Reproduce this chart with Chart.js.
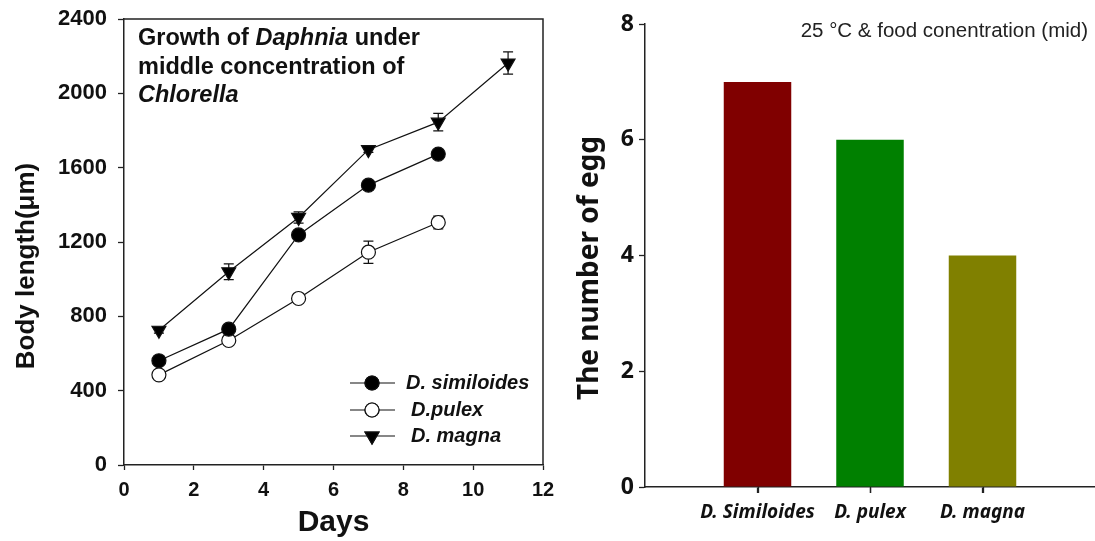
<!DOCTYPE html>
<html>
<head>
<meta charset="utf-8">
<script src="https://cdn.jsdelivr.net/npm/chart.js@4.4.1/dist/chart.umd.min.js"></script>
<style>
  html, body { margin: 0; padding: 0; background: #fff; }
  #growthBox { position: absolute; left: 0; top: 0; width: 560px; height: 541px; }
  #eggBox { position: absolute; left: 560px; top: 0; width: 535px; height: 541px; }
</style>
</head>
<body>
<div id="growthBox"><canvas id="growthChart"></canvas></div>
<div id="eggBox"><canvas id="eggChart"></canvas></div>
<script>
// Body length (um) by day, mean and error
const days = [1, 3, 5, 7, 9, 11];
const similoidesLen = [561, 731, 1238, 1506, 1673];
const similoidesErr = [10, 12, 18, 25, 15];
const pulexLen = [485, 670, 896, 1145, 1305];
const pulexErr = [10, 10, 12, 60, 34];
const magnaLen = [725, 1040, 1332, 1697, 1845, 2163];
const magnaErr = [15, 42, 30, 15, 47, 60];

// Eggs per species
const species = ['D. Similoides', 'D. pulex', 'D. magna'];
const eggCounts = [7, 6, 4];

const AXIS = '#222';
const ARIAL = '"Liberation Sans", Arial, sans-serif';
const NOTO = '"Noto Sans", sans-serif';

document.addEventListener('DOMContentLoaded', () => {
  initGrowthChart();
  initEggChart();
});

function toPoints(values) {
  return values.map((v, i) => ({ x: days[i], y: v }));
}

// rotated axis title, centred on a given point
function drawSideTitle(ctx, text, font, x, y) {
  ctx.save();
  ctx.translate(x, y);
  ctx.rotate(-Math.PI / 2);
  ctx.fillStyle = '#111';
  ctx.font = font;
  ctx.textAlign = 'center';
  ctx.textBaseline = 'middle';
  ctx.fillText(text, 0, 0);
  ctx.restore();
}

const errorBars = {
  id: 'errorBars',
  beforeDatasetsDraw(chart) {
    const ctx = chart.ctx;
    const yScale = chart.scales.y;
    ctx.save();
    ctx.strokeStyle = '#111';
    ctx.lineWidth = 1.2;
    chart.data.datasets.forEach((ds, di) => {
      if (!ds.errors) return;
      const meta = chart.getDatasetMeta(di);
      meta.data.forEach((pt, i) => {
        const e = ds.errors[i];
        const v = ds.data[i].y;
        const top = yScale.getPixelForValue(v + e);
        const bot = yScale.getPixelForValue(v - e);
        ctx.beginPath();
        ctx.moveTo(pt.x, top); ctx.lineTo(pt.x, bot);
        ctx.moveTo(pt.x - 5, top); ctx.lineTo(pt.x + 5, top);
        ctx.moveTo(pt.x - 5, bot); ctx.lineTo(pt.x + 5, bot);
        ctx.stroke();
      });
    });
    ctx.restore();
  }
};

const growthDecor = {
  id: 'growthDecor',
  afterDraw(chart) {
    const { ctx, chartArea: a } = chart;
    ctx.save();
    // top and right sides of the frame
    ctx.strokeStyle = AXIS;
    ctx.lineWidth = 1.5;
    ctx.beginPath();
    ctx.moveTo(a.left, a.top); ctx.lineTo(a.right, a.top); ctx.lineTo(a.right, a.bottom);
    ctx.stroke();

    drawSideTitle(ctx, 'Body length(\u03bcm)', 'bold 26px ' + ARIAL, 27, 266);

    // title with italic genus names
    const lines = [
      [['Growth of ', false], ['Daphnia', true], [' under', false]],
      [['middle concentration of', false]],
      [['Chlorella', true]]
    ];
    ctx.fillStyle = '#111';
    ctx.textBaseline = 'middle';
    lines.forEach((parts, li) => {
      let x = 138;
      const y = 39 + li * 28.5;
      parts.forEach(([txt, it]) => {
        ctx.font = (it ? 'italic ' : '') + 'bold 23.5px ' + ARIAL;
        ctx.fillText(txt, x, y);
        x += ctx.measureText(txt).width;
      });
    });

    // legend
    const rows = [
      { label: 'D. similoides', ds: 0, tx: 406, y: 383 },
      { label: 'D.pulex', ds: 1, tx: 411, y: 410 },
      { label: 'D. magna', ds: 2, tx: 411, y: 436 }
    ];
    rows.forEach(r => {
      const ds = chart.data.datasets[r.ds];
      ctx.strokeStyle = '#111';
      ctx.lineWidth = 1.2;
      ctx.beginPath();
      ctx.moveTo(350, r.y); ctx.lineTo(395, r.y);
      ctx.stroke();
      Chart.helpers.drawPoint(ctx, {
        pointStyle: ds.pointStyle,
        radius: ds.pointRadius,
        rotation: ds.pointRotation || 0,
        borderWidth: 1.2
      }, 372, r.y);
      ctx.fillStyle = ds.pointBackgroundColor;
      ctx.fill();
      ctx.stroke();
      ctx.fillStyle = '#111';
      ctx.font = 'italic bold 20px ' + ARIAL;
      ctx.fillText(r.label, r.tx, r.y);
    });
    ctx.restore();
  }
};

function initGrowthChart() {
  const ctx = document.getElementById('growthChart').getContext('2d');
  const common = {
    borderColor: '#111',
    borderWidth: 1.2,
    pointBorderColor: '#111',
    pointBorderWidth: 1.2,
    pointHoverRadius: 7,
    tension: 0
  };
  new Chart(ctx, {
    type: 'line',
    data: {
      datasets: [
        Object.assign({}, common, {
          label: 'D. similoides',
          data: toPoints(similoidesLen),
          errors: similoidesErr,
          pointStyle: 'circle',
          pointRadius: 7,
          pointBackgroundColor: '#000'
        }),
        Object.assign({}, common, {
          label: 'D.pulex',
          data: toPoints(pulexLen),
          errors: pulexErr,
          pointStyle: 'circle',
          pointRadius: 7,
          pointBackgroundColor: '#fff'
        }),
        Object.assign({}, common, {
          label: 'D. magna',
          data: toPoints(magnaLen),
          errors: magnaErr,
          pointStyle: 'triangle',
          pointRadius: 8,
          pointRotation: 180,
          pointBackgroundColor: '#000'
        })
      ]
    },
    options: {
      responsive: true,
      maintainAspectRatio: false,
      animation: false,
      layout: { padding: { top: 19, right: 17, bottom: 0, left: 0 } },
      plugins: { legend: { display: false }, tooltip: { enabled: false } },
      scales: {
        x: {
          type: 'linear',
          min: 0, max: 12,
          afterFit: s => { s.height = 76; s.paddingLeft = 0; s.paddingRight = 0; },
          ticks: { stepSize: 2, color: '#111', padding: 8, font: { family: ARIAL, size: 20, weight: 'bold' } },
          grid: { drawOnChartArea: false, tickLength: 5, tickColor: AXIS, tickWidth: 1.3 },
          border: { color: AXIS, width: 1.5 },
          title: { display: true, text: 'Days', color: '#111', padding: { bottom: 0 }, font: { family: ARIAL, size: 30, weight: 'bold' } }
        },
        y: {
          min: 0, max: 2400,
          afterFit: s => { s.width = 124; s.paddingTop = 0; s.paddingBottom = 0; },
          ticks: { stepSize: 400, color: '#111', padding: 11, font: { family: ARIAL, size: 22, weight: 'bold' }, callback: v => String(v) },
          grid: { drawOnChartArea: false, tickLength: 6, tickColor: AXIS, tickWidth: 1.3 },
          border: { color: AXIS, width: 1.5 }
        }
      }
    },
    plugins: [errorBars, growthDecor]
  });
}

const eggDecor = {
  id: 'eggDecor',
  afterDraw(chart) {
    const ctx = chart.ctx;
    const x = chart.scales.x;
    ctx.save();
    // category tick marks below the axis
    ctx.strokeStyle = AXIS;
    ctx.lineWidth = 1.3;
    ctx.beginPath();
    species.forEach((_, i) => {
      const px = Math.round(x.getPixelForValue(i + 1)) + 0.5;
      ctx.moveTo(px, x.top);
      ctx.lineTo(px, x.top + 6);
    });
    ctx.stroke();

    ctx.fillStyle = '#222';
    ctx.font = '20.5px ' + ARIAL;
    ctx.textAlign = 'right';
    ctx.textBaseline = 'middle';
    ctx.fillText('25 \u00b0C & food conentration (mid)', 528, 31);
    ctx.restore();
    drawSideTitle(ctx, 'The number of egg', 'bold 28px ' + NOTO, 30, 268);
  }
};

function initEggChart() {
  const ctx = document.getElementById('eggChart').getContext('2d');
  new Chart(ctx, {
    type: 'bar',
    data: {
      datasets: [{
        label: 'The number of egg',
        data: eggCounts.map((v, i) => ({ x: i + 1, y: v })),
        backgroundColor: ['#800000', '#008000', '#808000'],
        borderWidth: 0,
        barPercentage: 0.6,
        categoryPercentage: 1
      }]
    },
    options: {
      responsive: true,
      maintainAspectRatio: false,
      animation: false,
      layout: { padding: { top: 24, right: 0, bottom: 0, left: 0 } },
      plugins: { legend: { display: false }, tooltip: { enabled: false } },
      scales: {
        x: {
          type: 'linear',
          min: 0, max: 4,
          offset: false,
          afterFit: s => { s.height = 54; },
          afterBuildTicks: s => { s.ticks = s.ticks.filter(t => t.value >= 1 && t.value <= species.length); },
          ticks: {
            stepSize: 1,
            autoSkip: false,
            maxRotation: 0,
            color: '#111',
            padding: 8,
            font: { family: NOTO, size: 19, weight: 'bold', style: 'italic' },
            callback: v => species[v - 1] || ''
          },
          grid: { offset: false, drawOnChartArea: false, tickLength: 6, tickColor: AXIS, tickWidth: 1.3 },
          border: { color: AXIS, width: 1.5 }
        },
        y: {
          min: 0, max: 8,
          afterFit: s => { s.width = 85; s.paddingTop = 0; s.paddingBottom = 0; },
          ticks: { stepSize: 2, color: '#111', padding: 5, font: { family: NOTO, size: 23, weight: 'bold' } },
          grid: { drawOnChartArea: false, tickLength: 6, tickColor: AXIS, tickWidth: 1.3 },
          border: { color: AXIS, width: 1.5 }
        }
      }
    },
    plugins: [eggDecor]
  });
}
</script>
</body>
</html>
